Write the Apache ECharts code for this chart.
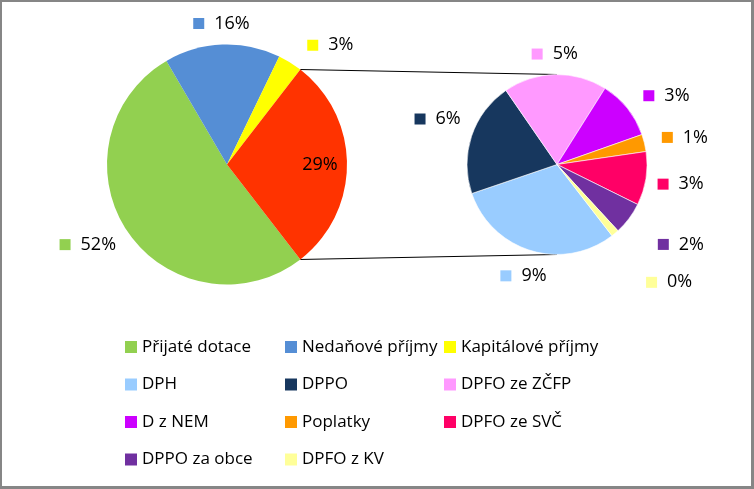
<!DOCTYPE html>
<html><head><meta charset="utf-8">
<script src="https://cdn.jsdelivr.net/npm/echarts@6/dist/echarts.min.js"></script>
<style>
html,body{margin:0;padding:0;background:#fff;}
#chart{position:absolute;left:0;top:0;width:754px;height:489px;}
#frame{position:absolute;left:0;top:0;width:754px;height:489px;box-sizing:border-box;border-style:solid;border-color:#868686;border-width:2px 3px 3px 2px;pointer-events:none;}
</style></head><body>
<div id="chart"></div><div id="frame"></div>
<script>
// ---- data ----
const mainNames = ['Přijaté dotace', 'Nedaňové příjmy', 'Kapitálové příjmy'];
const mainValues = [52.1, 15.6, 3.3];
const otherName = 'Daňové příjmy';
const subNames = ['DPH', 'DPPO', 'DPFO ze ZČFP', 'D z NEM', 'Poplatky', 'DPFO ze SVČ', 'DPPO za obce', 'DPFO z KV'];
const subValues = [8.8, 6.0, 5.4, 3.1, 0.9, 2.8, 1.7, 0.4];
const mainColors = ['#92D050', '#558ED5', '#FFFF00'];
const otherColor = '#FF3300';
const subColors = ['#99CCFF', '#17375E', '#FF99FF', '#CC00FF', '#FF9900', '#FF0066', '#7030A0', '#FFFF99'];

// ---- derived ----
const otherValue = subValues.reduce((a, b) => a + b, 0);
const allMain = mainValues.concat([otherValue]);
const allMainNames = mainNames.concat([otherName]);
const allMainColors = mainColors.concat([otherColor]);
const total = allMain.reduce((a, b) => a + b, 0);
const halfOther = otherValue / total * 180;        // degrees
const startAngle = 360 - halfOther;

const FONT = 'Open Sans';
const FS = 18;
const LFS = 17;
const mainC = [227, 164.5], mainR = 120;
const subC = [557, 164.5], subR = 90;

// small label nudges (px) mimicking the original label placement
const labelNudge = {
  'Přijaté dotace': [-7, -9],
  'Kapitálové příjmy': [24, 9],
  'D z NEM': [12, 9],
  'Poplatky': [6, 3],
  'DPPO za obce': [24, 5],
  'DPFO z KV': [33, 24],
  'DPPO': [0, -6]
};

function makeRich(colors) {
  const rich = { t: { fontFamily: FONT, fontSize: FS, color: '#000', padding: [0, 0, 0, 10] },
                 c: { fontFamily: FONT, fontSize: FS, color: '#000' } };
  colors.forEach((c, i) => { rich['s' + i] = { width: 11, height: 11, backgroundColor: c }; });
  return rich;
}

function midAngle(values, idx) {
  const sum = values.reduce((a, b) => a + b, 0);
  let cum = 0;
  for (let i = 0; i < idx; i++) cum += values[i];
  return (startAngle - 360 * (cum + values[idx] / 2) / sum) * Math.PI / 180;
}

function outsideLayout(values, names, center, r, insideIdx) {
  return function (p) {
    const i = p.dataIndex;
    const th = midAngle(values, i);
    const c = Math.cos(th), s = Math.sin(th);
    let d;
    if (i === insideIdx) {
      d = r * 0.775;
    } else {
      const hw = p.labelRect.width / 2, hh = p.labelRect.height / 2;
      d = r + 11 + hw * Math.abs(c) + hh * Math.abs(s);
    }
    const n = labelNudge[names[i]] || [0, 0];
    return { x: center[0] + d * c + n[0], y: center[1] - d * s + n[1], align: 'center', verticalAlign: 'middle' };
  };
}

const chart = echarts.init(document.getElementById('chart'));

const lines = [];
{
  const h = halfOther * Math.PI / 180;
  const px = mainC[0] + mainR * Math.cos(h);
  const pyTop = mainC[1] - mainR * Math.sin(h);
  const pyBot = mainC[1] + mainR * Math.sin(h);
  lines.push({ type: 'line', z: 0, shape: { x1: px, y1: pyTop, x2: subC[0], y2: subC[1] - subR }, style: { stroke: '#000', lineWidth: 1 } });
  lines.push({ type: 'line', z: 0, shape: { x1: px, y1: pyBot, x2: subC[0], y2: subC[1] + subR }, style: { stroke: '#000', lineWidth: 1 } });
}

const legendAll = mainNames.concat(subNames);
const cols = [[], [], []];
legendAll.forEach((n, i) => cols[i % 3].push(n));
const colLeft = [125, 285, 444];
const legends = cols.map((d, k) => ({
  data: d, orient: 'vertical', left: colLeft[k], top: 337, padding: 0,
  icon: 'rect', itemWidth: 12, itemHeight: 12, itemTextGap: 6, itemGap: 17.5,
  selectedMode: false,
  itemStyle: { borderWidth: 0 },
  textStyle: { fontFamily: FONT, fontSize: LFS, color: '#000', lineHeight: 20 }
}));

chart.setOption({
  animation: false,
  backgroundColor: '#fff',
  legend: legends,
  graphic: lines,
  series: [
    {
      type: 'pie', center: mainC, radius: mainR, startAngle: startAngle, clockwise: true,
      avoidLabelOverlap: false, emphasis: { disabled: true }, silent: true,
      itemStyle: { borderWidth: 0 },
      labelLine: { show: false },
      label: {
        show: true, position: 'outside', rich: makeRich(allMainColors),
        formatter: p => {
          const pct = Math.round(p.value / total * 100) + '%';
          return p.dataIndex === allMain.length - 1 ? '{c|' + pct + '}' : '{s' + p.dataIndex + '| }{t|' + pct + '}';
        }
      },
      labelLayout: outsideLayout(allMain, allMainNames, mainC, mainR, allMain.length - 1),
      data: allMain.map((v, i) => ({ name: allMainNames[i], value: v, itemStyle: { color: allMainColors[i] } }))
    },
    {
      type: 'pie', center: subC, radius: subR, startAngle: startAngle, clockwise: true,
      avoidLabelOverlap: false, emphasis: { disabled: true }, silent: true,
      itemStyle: { borderWidth: 0.6, borderColor: '#fff' },
      labelLine: { show: false },
      label: {
        show: true, position: 'outside', rich: makeRich(subColors),
        formatter: p => '{s' + p.dataIndex + '| }{t|' + Math.round(p.value / total * 100) + '%}'
      },
      labelLayout: outsideLayout(subValues, subNames, subC, subR, -1),
      data: subValues.map((v, i) => ({ name: subNames[i], value: v, itemStyle: { color: subColors[i] } }))
    }
  ]
});
</script>
</body></html>
